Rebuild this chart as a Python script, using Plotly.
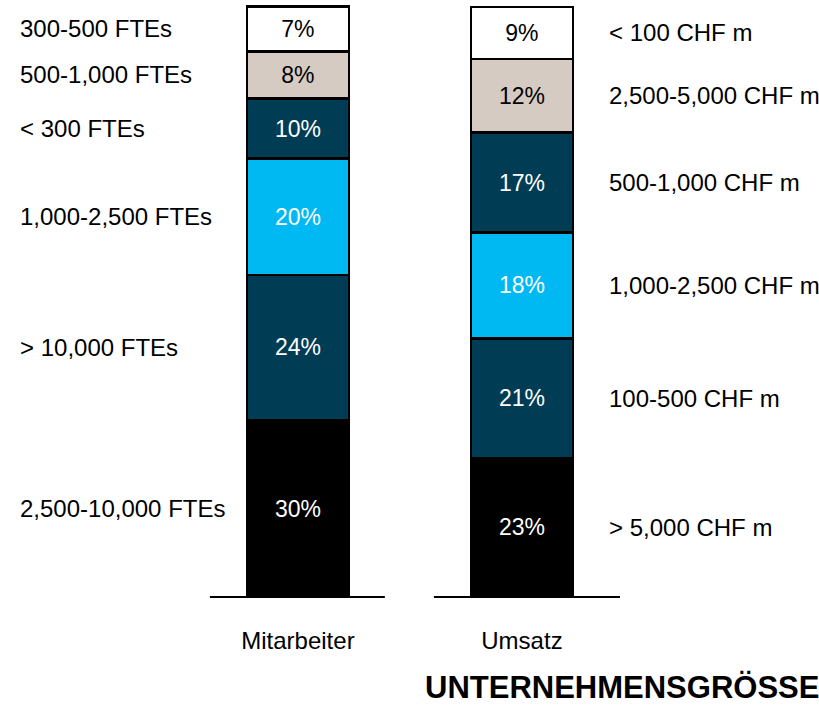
import plotly.graph_objects as go

categories = ["Mitarbeiter", "Umsatz"]

# segments listed bottom to top
mit_labels = ["2,500-10,000 FTEs", "> 10,000 FTEs", "1,000-2,500 FTEs", "< 300 FTEs", "500-1,000 FTEs", "300-500 FTEs"]
mit_values = [30.0, 24.6, 19.7, 10.2, 8.0, 7.6]
mit_text = ["30%", "24%", "20%", "10%", "8%", "7%"]

ums_labels = ["> 5,000 CHF m", "100-500 CHF m", "1,000-2,500 CHF m", "500-1,000 CHF m", "2,500-5,000 CHF m", "< 100 CHF m"]
ums_values = [23.6, 20.2, 18.0, 16.9, 12.5, 8.8]
ums_text = ["23%", "21%", "18%", "17%", "12%", "9%"]

title_text = "UNTERNEHMENSGRÖSSE"

seg_colors = ["#000000", "#003D55", "#00B9F2", "#003D55", "#D5CBC2", "#FFFFFF"]
text_colors = ["#FFFFFF", "#FFFFFF", "#FFFFFF", "#FFFFFF", "#000000", "#000000"]

FONT = "Liberation Sans, Arial, sans-serif"
FS_LABEL = 24
FS_PCT = 23

fig = go.Figure()
for i in range(6):
    fig.add_trace(go.Bar(
        x=categories,
        y=[mit_values[i], ums_values[i]],
        text=[mit_text[i], ums_text[i]],
        textposition="inside",
        insidetextanchor="middle",
        textangle=0,
        textfont=dict(family=FONT, size=FS_PCT, color=text_colors[i]),
        constraintext="none",
        marker=dict(color=seg_colors[i], line=dict(color="#000000", width=2.5)),
        width=0.455,
        hoverinfo="skip",
        showlegend=False,
    ))

annotations = []
cum = 0
for v, lab in zip(mit_values, mit_labels):
    annotations.append(dict(x=18 / 819, xref="paper", y=cum + v / 2, yref="y", text=lab,
                            xanchor="left", yanchor="middle", showarrow=False,
                            font=dict(family=FONT, size=FS_LABEL, color="#000000")))
    cum += v
cum = 0
for v, lab in zip(ums_values, ums_labels):
    annotations.append(dict(x=607 / 819, xref="paper", y=cum + v / 2, yref="y", text=lab,
                            xanchor="left", yanchor="middle", showarrow=False,
                            font=dict(family=FONT, size=FS_LABEL, color="#000000")))
    cum += v

annotations.append(dict(x=423 / 819, xref="paper", y=-0.145, yref="paper", text="<b>" + title_text + "</b>",
                        xanchor="left", yanchor="middle", showarrow=False,
                        font=dict(family=FONT, size=31, color="#000000")))

shapes = [
    dict(type="line", xref="x", yref="y", x0=-0.393, x1=0.388, y0=0, y1=0, line=dict(color="#000000", width=2)),
    dict(type="line", xref="x", yref="y", x0=0.607, x1=1.4375, y0=0, y1=0, line=dict(color="#000000", width=2)),
]

fig.update_layout(
    barmode="stack",
    width=819, height=712,
    margin=dict(l=0, r=0, t=0, b=112),
    paper_bgcolor="#FFFFFF", plot_bgcolor="#FFFFFF",
    xaxis=dict(range=[-1.330, 2.326], showgrid=False, zeroline=False, showline=False,
               ticks="", tickfont=dict(family=FONT, size=FS_LABEL, color="#000000"),
               ticklabelstandoff=24, fixedrange=True),
    yaxis=dict(range=[-0.508, 101.186], visible=False, fixedrange=True),
    annotations=annotations,
    shapes=shapes,
    uniformtext=dict(mode=False),
)

fig.write_html("out.html", config={"displayModeBar": False},
               post_script="document.body.style.margin='0px';")
